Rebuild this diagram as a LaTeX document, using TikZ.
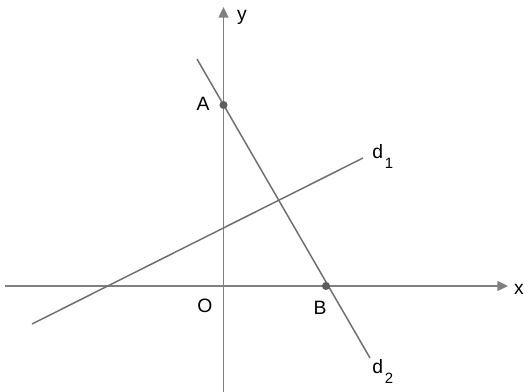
\documentclass[tikz,border=0pt]{standalone}
\usepackage{fontspec}
\setmainfont{Liberation Sans}
\usetikzlibrary{arrows.meta, positioning}

\definecolor{axisgray}{HTML}{808080}
\definecolor{linegray}{HTML}{707070}
\definecolor{dotgray}{HTML}{5E5E5E}

\newcommand{\lowsub}[1]{\hspace{1pt}\raisebox{-6pt}{\fontsize{8.5}{9}\selectfont #1}}

\begin{document}
\begin{tikzpicture}[
	x=0.02cm, y=-0.02cm,
	axis/.style={draw=axisgray, line width=1.1pt, -{Triangle[length=6pt, width=5.5pt]}},
	dline/.style={draw=linegray, line width=0.85pt},
	dot/.style={circle, fill=dotgray, inner sep=0pt, minimum size=4.6pt},
	lbl/.style={inner sep=0pt, font=\fontsize{11}{12}\selectfont}
]
	\useasboundingbox (0,0) rectangle (524,392);

	% axes
	\coordinate (xs) at (5,286);
	\coordinate (xe) at (508,286);
	\coordinate (ys) at (223.5,392);
	\coordinate (ye) at (223.5,7);
	\draw[axis] (xs) -- (xe);
	\draw[axis] (ys) -- (ye);

	% lines
	\coordinate (d1s) at (32,324);
	\coordinate (d1e) at (363,158);
	\coordinate (d2s) at (197,59);
	\coordinate (d2e) at (370,358);
	\draw[dline] (d1s) -- (d1e);
	\draw[dline] (d2s) -- (d2e);

	% points
	\node[dot] (A) at (223.5,105) {};
	\node[dot] (B) at (326,286) {};

	% labels
	\node[lbl] (xlab) at (519,289) {x};
	\node[lbl] (ylab) at (242,17) {y};
	\node[lbl] (Olab) at (205,306) {O};
	\node[lbl] (Alab) at (203,104) {A};
	\node[lbl] (Blab) at (320,308) {B};
	\node[lbl, anchor=base west] (d1lab) at (372,158) {d\lowsub{1}};
	\node[lbl, anchor=base west] (d2lab) at (372,373) {d\lowsub{2}};
\end{tikzpicture}
\end{document}
